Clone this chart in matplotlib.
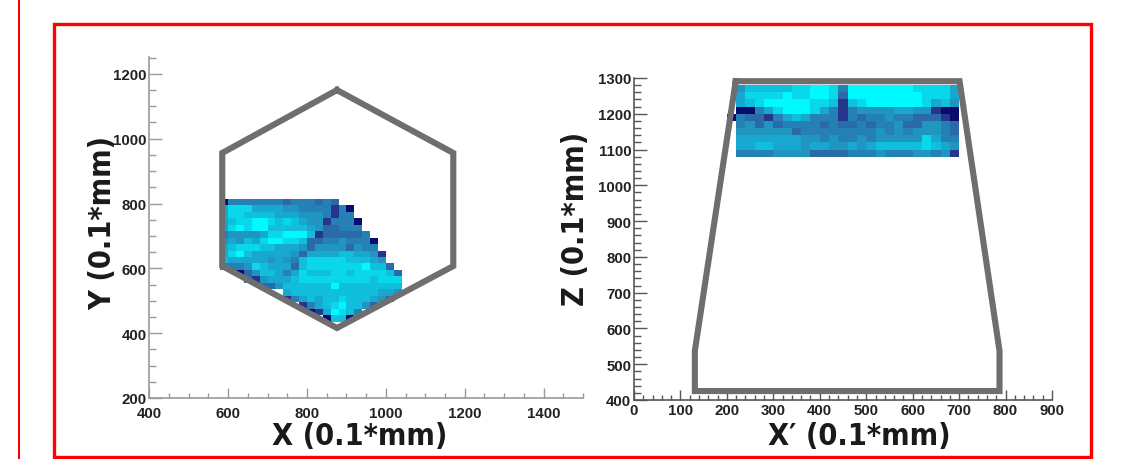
# -*- coding: utf-8 -*-
"""Two detector hit maps (X-Y and X'-Z) with the module outlines on top."""
import numpy as np
import matplotlib
matplotlib.use("Agg")
import matplotlib.pyplot as plt
from matplotlib.colors import ListedColormap
from matplotlib.patches import Rectangle
from matplotlib.ticker import MultipleLocator

W, H = 1121, 460

# colour levels per cell, 0 = empty, 1 (navy) .. 9 (cyan)
XY_LEVELS = [
    [1,4,4,4,4,4,4,4,3,4,4,4,3,4,3,0,0,0,0,0,0,0,0],
    [6,8,8,8,6,6,6,6,5,5,4,4,4,4,2,4,1,0,0,0,0,0,0],
    [6,8,8,7,7,7,7,6,6,6,5,5,5,4,2,4,4,0,0,0,0,0,0],
    [6,7,8,8,9,9,8,7,8,7,6,5,5,2,4,4,4,1,0,0,0,0,0],
    [6,8,9,8,9,9,7,7,7,7,7,6,5,3,3,4,4,4,0,0,0,0,0],
    [4,5,5,5,5,6,8,8,9,9,9,7,2,3,3,3,3,3,4,0,0,0,0],
    [5,6,5,7,6,8,9,9,8,8,7,3,3,4,4,5,4,4,4,1,0,0,0],
    [6,7,8,8,8,7,7,6,6,6,5,3,5,5,5,5,3,5,4,4,0,0,0],
    [6,8,9,7,6,6,6,6,6,5,3,6,6,6,6,7,7,6,6,5,2,0,0],
    [7,6,6,6,6,6,5,6,5,4,7,8,8,8,8,8,7,7,7,6,5,0,0],
    [4,4,4,5,8,7,6,6,6,3,7,8,8,8,8,8,8,8,9,7,7,3,0],
    [0,0,1,3,5,7,7,6,4,6,8,7,7,7,8,8,7,8,8,8,8,7,3],
    [0,0,0,3,2,5,6,6,6,7,8,8,8,8,8,8,8,8,8,7,8,8,8],
    [0,0,0,0,0,3,3,5,7,7,7,7,7,7,9,7,7,7,7,7,7,7,7],
    [0,0,0,0,0,0,0,0,6,7,7,7,7,7,7,7,7,7,7,7,6,6,5],
    [0,0,0,0,0,0,0,0,2,4,6,7,6,7,7,8,7,7,7,6,5,3,0],
    [0,0,0,0,0,0,0,0,0,0,2,4,6,7,8,9,7,7,5,3,0,0,0],
    [0,0,0,0,0,0,0,0,0,0,0,1,2,6,9,8,7,4,0,0,0,0,0],
    [0,0,0,0,0,0,0,0,0,0,0,0,0,1,7,7,1,0,0,0,0,0,0],
]
XZ_LEVELS = [
    [0,5,7,7,7,7,7,8,8,9,9,8,4,9,9,9,9,9,9,9,8,8,8,8,6],
    [0,6,8,8,8,8,9,8,8,9,9,8,3,9,9,9,9,9,9,9,9,8,8,8,6],
    [0,6,7,8,9,9,9,9,9,8,8,7,2,7,8,9,9,9,9,9,9,8,6,7,5],
    [0,1,1,4,6,8,9,9,9,8,6,4,2,4,5,5,5,5,6,6,5,5,2,1,1],
    [1,4,3,3,2,4,6,7,6,4,4,4,2,4,3,4,4,5,4,4,3,3,3,2,1],
    [0,4,5,3,5,3,4,4,4,4,3,4,3,3,4,3,4,4,5,3,3,5,5,4,3],
    [0,5,5,5,5,5,5,3,4,4,4,4,4,4,4,4,5,4,5,4,5,5,5,4,3],
    [0,6,6,6,6,6,6,6,5,5,4,5,4,4,5,4,5,5,5,5,5,8,6,4,4],
    [0,6,6,7,7,6,6,6,5,6,6,5,5,6,5,6,7,7,7,7,7,8,7,6,5],
    [0,4,4,4,4,5,5,5,5,3,3,3,3,4,4,4,5,4,4,4,5,5,4,5,2],
]
LEVEL_COLORS = ["#0a0a6e", "#26368f", "#2a6aa8", "#2580b5", "#1f95c0",
                "#18a8cf", "#10bfdc", "#08d8ea", "#00f8ff"]

HEX_X = [876, 1171, 1171, 876, 585, 585, 876]
HEX_Y = [1150, 956, 607, 416, 607, 956, 1150]
TRAP_X = [219, 701, 787, 787, 131, 131, 219]
TRAP_Z = [1291, 1291, 537, 425, 425, 537, 1291]

XY_XTICKS = [400, 600, 800, 1000, 1200, 1400]
XY_YTICKS = [200, 400, 600, 800, 1000, 1200]
XZ_XTICKS = [0, 100, 200, 300, 400, 500, 600, 700, 800, 900]
XZ_YTICKS = [400, 500, 600, 700, 800, 900, 1000, 1100, 1200, 1300]

plt.rcParams["font.family"] = ["Liberation Sans", "DejaVu Sans"]
CMAP = ListedColormap(LEVEL_COLORS)


def make_axes(fig, x0, x1, y0, y1):
    ax = fig.add_axes([x0 / W, 1 - y1 / H, (x1 - x0) / W, (y1 - y0) / H])
    ax.spines["top"].set_visible(False)
    ax.spines["right"].set_visible(False)
    return ax


def draw_cells(ax, levels, x_start, y_top, dx, dy):
    z = np.ma.masked_equal(np.array(levels)[::-1], 0)
    ny, nx = z.shape
    xe = x_start + dx * np.arange(nx + 1)
    ye = y_top - dy * np.arange(ny + 1)[::-1]
    ax.pcolormesh(xe, ye, z, cmap=CMAP, vmin=0.5, vmax=9.5)


def style_axes(ax, color, xt, yt, xminor, yminor, padx, pady):
    for s in ("left", "bottom"):
        ax.spines[s].set_color(color)
        ax.spines[s].set_linewidth(1.2)
    ax.set_xticks(xt)
    ax.set_yticks(yt)
    ax.xaxis.set_minor_locator(MultipleLocator(xminor))
    ax.yaxis.set_minor_locator(MultipleLocator(yminor))
    ax.tick_params(which="major", direction="in", width=1.0, color=color,
                   labelsize=10.8, labelcolor="#222222")
    ax.tick_params(which="minor", direction="in", width=1.0, color=color)
    ax.tick_params(axis="x", which="major", length=7, pad=padx)
    ax.tick_params(axis="x", which="minor", length=3.5)
    ax.tick_params(axis="y", which="major", length=9.4, pad=pady)
    ax.tick_params(axis="y", which="minor", length=5)
    for t in ax.get_xticklabels() + ax.get_yticklabels():
        t.set_fontweight("bold")


fig = plt.figure(figsize=(W / 100, H / 100), dpi=100, facecolor="white")

ax = make_axes(fig, 149.3, 583, 58, 399)
draw_cells(ax, XY_LEVELS, 580, 815, 20, 20)
ax.plot(HEX_X, HEX_Y, color="#6e6e6e", lw=4.4, solid_joinstyle="miter",
        clip_on=False)
ax.set_xlim(400, 1500)
ax.set_ylim(200, 1252)
style_axes(ax, "#9a9a9a", XY_XTICKS, XY_YTICKS, 50, 50, 6, 2)

ax2 = make_axes(fig, 634, 1052, 79, 401)
draw_cells(ax2, XZ_LEVELS, 200, 1280, 20, 20)
ax2.plot(TRAP_X, TRAP_Z, color="#6e6e6e", lw=4.4, solid_joinstyle="miter",
         clip_on=False)
ax2.set_xlim(0, 900)
ax2.set_ylim(400, 1300)
style_axes(ax2, "#555555", XZ_XTICKS, XZ_YTICKS, 20, 20, 2.5, 2)

label_kw = dict(family="DejaVu Sans", stretch="condensed", fontweight="bold",
                color="#1a1a1a", transform=fig.transFigure, ha="center",
                va="baseline", rotation_mode="anchor", fontsize=22)
fig.text(360 / W, 1 - 445 / H, "X (0.1*mm)", **label_kw)
fig.text(111 / W, 1 - 223 / H, "Y (0.1*mm)", rotation=90, **label_kw)
fig.text(859 / W, 1 - 445 / H, "X\u2032 (0.1*mm)", **label_kw)
fig.text(584 / W, 1 - 219 / H, "Z (0.1*mm)", rotation=90, **label_kw)

# red annotation frame and the stray line left of it
fig.add_artist(Rectangle((54 / W, 1 - 458 / H), 1037 / W, 433 / H,
                         transform=fig.transFigure, fill=False,
                         edgecolor="#ff0000", lw=2.4))
fig.add_artist(Rectangle((18 / W, 0), 2 / W, 1,
                         transform=fig.transFigure, facecolor="#ff0000",
                         edgecolor="none"))

fig.savefig("out.png", dpi=100)
plt.close(fig)
